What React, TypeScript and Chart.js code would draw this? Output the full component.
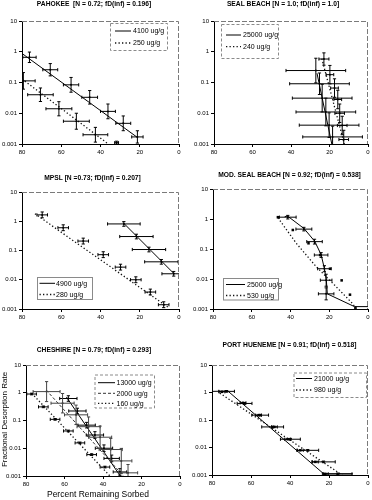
import React, { useEffect, useRef } from 'react';
import { Chart, registerables } from 'chart.js';

Chart.register(...registerables);

const FONT = '"Liberation Sans", Arial, Helvetica, sans-serif';
const NARROW = '"Liberation Sans Narrow", "Liberation Sans", Arial, sans-serif';

// ---------- axes ----------
const xTickValues = [0, 20, 40, 60, 80];
const yTickValues = [0.001, 0.01, 0.1, 1, 10];
const yTickLabels = ['0.001', '0.01', '0.1', '1', '10'];
const xAxisTitle = 'Percent Remaining Sorbed';
const yAxisTitle = 'Fractional Desorption Rate';

// ---------- PAHOKEE ----------
const pahokeeTitle = 'PAHOKEE  [N = 0.72; fD(inf) = 0.196]';
const pahokeeHiLabel = '4100 ug/g';
const pahokeeHiX = [76.2, 65.6, 55.0, 45.5, 36.2, 28.4, 21.2];
const pahokeeHiY = [0.66, 0.26, 0.084, 0.033, 0.0115, 0.0047, 0.0017];
const pahokeeHiXErr = [3.4, 3.8, 3.9, 4.0, 3.8, 3.8, 2.9];
const pahokeeHiYErr = [0.17, 0.2, 0.24, 0.22, 0.24, 0.24, 0.2];
const pahokeeHiFitX = [80, 21];
const pahokeeHiFitY = [0.88, 0.0016];
const pahokeeLoLabel = '250 ug/g';
const pahokeeLoX = [79.3, 70.6, 61.2, 52.3, 42.6, 31.8];
const pahokeeLoY = [0.113, 0.04, 0.014, 0.0055, 0.002, 0.0011];
const pahokeeLoXErr = [6, 6.5, 6.6, 6.6, 6.3, 1];
const pahokeeLoYErr = [0.27, 0.22, 0.23, 0.26, 0.24, 0.05];
const pahokeeLoFitX = [80, 36];
const pahokeeLoFitY = [0.13, 0.001];

// ---------- SEAL BEACH ----------
const sealTitle = 'SEAL BEACH [N = 1.0; fD(inf) = 1.0]';
const sealHiLabel = '25000 ug/g';
const sealHiX = [27.1, 25.2, 23.8, 21.9, 20.2, 18.4];
const sealHiY = [0.245, 0.091, 0.031, 0.011, 0.0041, 0.0017];
const sealHiXErr = [15.5, 15.5, 15.5, 15.5, 15.5, 15.5];
const sealHiYErr = [0.4, 0.35, 0.45, 0.45, 0.4, 0.35];
const sealHiFitX = [26.5, 18.8];
const sealHiFitY = [0.2, 0.001];
const sealLoLabel = '240 ug/g';
const sealLoX = [22.9, 19.8, 17.4, 15.7, 14.7, 13.4, 12.6];
const sealLoY = [0.58, 0.18, 0.066, 0.028, 0.01, 0.004, 0.0014];
const sealLoXErr = [2.6, 2, 2, 2, 2.5, 2.5, 2.5];
const sealLoYErr = [0.2, 0.3, 0.3, 0.3, 0.3, 0.3, 0.3];
const sealLoFitX = [24, 12.3];
const sealLoFitY = [0.6, 0.001];

// ---------- MPSL ----------
const mpslTitle = 'MPSL [N =0.73; fD(inf) = 0.207]';
const mpslHiLabel = '4900 ug/g';
const mpslHiX = [28.1, 21.7, 15.3, 9.0, 2.7];
const mpslHiY = [0.81, 0.3, 0.108, 0.041, 0.016];
const mpslHiXErr = [8.3, 8.5, 8.5, 8.5, 6];
const mpslHiYErr = [0.08, 0.08, 0.08, 0.08, 0.08];
const mpslHiFitX = [28.5, 2.5];
const mpslHiFitY = [0.9, 0.016];
const mpslLoLabel = '280 ug/g';
const mpslLoX = [69.7, 59.0, 48.8, 38.6, 29.8, 22.0, 14.6, 7.8];
const mpslLoY = [1.65, 0.6, 0.21, 0.072, 0.027, 0.01, 0.0038, 0.0014];
const mpslLoXErr = [2.7, 2.7, 2.7, 2.7, 2.7, 2.7, 2.7, 2.7];
const mpslLoYErr = [0.1, 0.1, 0.1, 0.1, 0.1, 0.1, 0.1, 0.1];
const mpslLoFitX = [73.4, 5.6];
const mpslLoFitY = [1.8, 0.00115];

// ---------- MOD. SEAL BEACH ----------
const modTitle = 'MOD. SEAL BEACH [N = 0.92; fD(inf) = 0.538]';
const modHiLabel = '25000 ug/g';
const modHiX = [41.4, 33.1, 27.6, 24.2, 22.5, 21.6, 21.6];
const modHiY = [1.15, 0.46, 0.176, 0.063, 0.022, 0.0091, 0.0032];
const modHiXErr = [4.3, 4.1, 4, 3.5, 3.5, 3, 4];
const modHiYErr = [0.06, 0.06, 0.08, 0.08, 0.1, 0.2, 0.2];
const modHiFitX = [43, 41.5, 33, 27.5, 24.2, 22.5, 21.5, 21, 7, 0];
const modHiFitY = [1.2, 1.25, 0.48, 0.18, 0.065, 0.022, 0.009, 0.0032, 0.0012, 0.0012];
const modLoLabel = '530 ug/g';
const modLoX = [46.5, 38.8, 30.7, 24.7, 19.6, 13.6, 9.3, 6.5];
const modLoY = [1.15, 0.43, 0.155, 0.063, 0.022, 0.009, 0.003, 0.0011];
const modLoXErr = [0, 0, 0, 0, 0, 0, 0, 0];
const modLoYErr = [0, 0, 0, 0, 0, 0, 0, 0];
const modLoFitX = [46.5, 37, 26.8, 17.3, 7.9, 6];
const modLoFitY = [1.1, 0.155, 0.026, 0.0063, 0.0015, 0.001];

// ---------- CHESHIRE ----------
const cheshireTitle = 'CHESHIRE [N = 0.79; fD(inf) = 0.293]';
const cheshireHiLabel = '13000 ug/g';
const cheshireHiX = [58.0, 53.3, 48.5, 44.2, 39.5, 35.5, 31.2];
const cheshireHiY = [0.62, 0.22, 0.068, 0.03, 0.01, 0.0043, 0.0014];
const cheshireHiXErr = [4.5, 4.5, 4.5, 4.5, 4.5, 4, 3.5];
const cheshireHiYErr = [0.1, 0.1, 0.1, 0.12, 0.12, 0.12, 0.12];
const cheshireHiFitX = [59, 31];
const cheshireHiFitY = [0.7, 0.001];
const cheshireMidLabel = '2000 ug/g';
const cheshireMidX = [69.3, 61, 54, 47.5, 41.5, 36, 30.5, 27];
const cheshireMidY = [1.1, 0.42, 0.16, 0.06, 0.025, 0.009, 0.0035, 0.0013];
const cheshireMidXErr = [7, 6, 6, 6, 6, 6, 5.5, 5];
const cheshireMidYErr = [0.36, 0.35, 0.35, 0.35, 0.4, 0.4, 0.45, 0.3];
const cheshireMidFitX = [69.5, 29.4];
const cheshireMidFitY = [1.25, 0.001];
const cheshireLoLabel = '160 ug/g';
const cheshireLoX = [77.1, 71.0, 64.9, 58.0, 52.0, 45.9, 39.0];
const cheshireLoY = [0.9, 0.31, 0.11, 0.042, 0.0156, 0.0059, 0.0021];
const cheshireLoXErr = [2.5, 2.5, 2.5, 2.5, 2.5, 2.5, 2.5];
const cheshireLoYErr = [0.03, 0.03, 0.03, 0.03, 0.03, 0.03, 0.03];
const cheshireLoFitX = [77, 36.4];
const cheshireLoFitY = [0.95, 0.001];

// ---------- PORT HUENEME ----------
const hueTitle = 'PORT HUENEME [N = 0.91; fD(inf) = 0.518]';
const hueHiLabel = '21000 ug/g';
const hueHiX = [74.9, 64.1, 56.1, 48.0, 41.2, 34.7, 27.0, 21.9];
const hueHiY = [1.06, 0.42, 0.15, 0.056, 0.02, 0.0079, 0.003, 0.0011];
const hueHiXErr = [1.5, 1.5, 1.5, 1.5, 1.5, 1.5, 1.5, 1.5];
const hueHiYErr = [0, 0, 0, 0, 0, 0, 0, 0];
const hueHiFitX = [80, 71.8, 22.7, 7.7];
const hueHiFitY = [1.1, 1.12, 0.0011, 0.0011];
const hueLoLabel = '980 ug/g';
const hueLoX = [72.5, 63.3, 55.3, 48.9, 39.8, 30.9, 22.8, 15.5];
const hueLoY = [1.1, 0.4, 0.15, 0.056, 0.02, 0.0079, 0.003, 0.0011];
const hueLoXErr = [4, 3.8, 4.3, 5.6, 5.1, 5.6, 6.0, 7.3];
const hueLoYErr = [0.03, 0.03, 0.03, 0.03, 0.03, 0.03, 0.03, 0.03];
const hueLoFitX = [76, 13.3];
const hueLoFitY = [0.95, 0.001];

// ---------- styles ----------
const STYLE: any = {
  solid: { dash: [], width: 1, color: '#000' },
  dashed: { dash: [3, 2], width: 1, color: '#333' },
  dotted: { dash: [1.3, 2.2], width: 1.3, color: '#111' },
};

function series(label: string, style: string, marker: string, errColor: string,
  x: number[], y: number[], xErr: number[], yErr: number[], fitX: number[], fitY: number[]) {
  return { label, style, marker, errColor, x, y, xErr, yErr, fitX, fitY };
}

const panels: any[] = [
  {
    key: 'p1', left: 0, top: 0, width: 186, height: 170, plot: { l: 22, r: 179, t: 21, b: 144 },
    title: pahokeeTitle, titleX: 94, titleY: 4.5,
    legend: { x1: 110, y1: 23, x2: 167, y2: 50, rows: [31, 43], s1: 115, s2: 131, tx: 133, dash: [3, 2] },
    series: [
      series(pahokeeHiLabel, 'solid', 'dot', '#000', pahokeeHiX, pahokeeHiY, pahokeeHiXErr, pahokeeHiYErr, pahokeeHiFitX, pahokeeHiFitY),
      series(pahokeeLoLabel, 'dotted', 'dot', '#000', pahokeeLoX, pahokeeLoY, pahokeeLoXErr, pahokeeLoYErr, pahokeeLoFitX, pahokeeLoFitY),
    ],
  },
  {
    key: 'p2', left: 186, top: 0, width: 186, height: 170, plot: { l: 214, r: 369, t: 21, b: 144 },
    title: sealTitle, titleX: 283, titleY: 4.5,
    legend: { x1: 221, y1: 24, x2: 278, y2: 58, rows: [35, 46.7], s1: 226, s2: 241, tx: 243, dash: [3, 2] },
    series: [
      series(sealHiLabel, 'solid', 'dot', '#000', sealHiX, sealHiY, sealHiXErr, sealHiYErr, sealHiFitX, sealHiFitY),
      series(sealLoLabel, 'dotted', 'dot', '#000', sealLoX, sealLoY, sealLoXErr, sealLoYErr, sealLoFitX, sealLoFitY),
    ],
  },
  {
    key: 'p3', left: 0, top: 160, width: 186, height: 170, plot: { l: 22, r: 179, t: 192, b: 309 },
    title: mpslTitle, titleX: 92.5, titleY: 178,
    legend: { x1: 37, y1: 277, x2: 92, y2: 299, rows: [283.3, 294.5], s1: 39.5, s2: 55, tx: 56, dash: [] },
    series: [
      series(mpslHiLabel, 'solid', 'dot', '#000', mpslHiX, mpslHiY, mpslHiXErr, mpslHiYErr, mpslHiFitX, mpslHiFitY),
      series(mpslLoLabel, 'dotted', 'dot', '#000', mpslLoX, mpslLoY, mpslLoXErr, mpslLoYErr, mpslLoFitX, mpslLoFitY),
    ],
  },
  {
    key: 'p4', left: 186, top: 160, width: 186, height: 170, plot: { l: 213, r: 368, t: 189, b: 309 },
    title: modTitle, titleX: 289.5, titleY: 175,
    legend: { x1: 223, y1: 278, x2: 278, y2: 299.5, rows: [284.5, 295.5], s1: 226, s2: 245, tx: 247, dash: [] },
    series: [
      series(modHiLabel, 'solid', 'dot', '#000', modHiX, modHiY, modHiXErr, modHiYErr, modHiFitX, modHiFitY),
      series(modLoLabel, 'dotted', 'rect', '#000', modLoX, modLoY, modLoXErr, modLoYErr, modLoFitX, modLoFitY),
    ],
  },
  {
    key: 'p5', left: 0, top: 330, width: 186, height: 170, plot: { l: 26, r: 180, t: 365, b: 476 },
    title: cheshireTitle, titleX: 94, titleY: 350.5,
    xTitle: { x: 98, y: 495 }, yTitle: { x: 5.2, y: 419.5 },
    legend: { x1: 94.5, y1: 374.5, x2: 154, y2: 407.5, rows: [382.7, 393.3, 403.3], s1: 98, s2: 115, tx: 116.5, dash: [3, 2] },
    series: [
      series(cheshireHiLabel, 'solid', 'dot', '#000', cheshireHiX, cheshireHiY, cheshireHiXErr, cheshireHiYErr, cheshireHiFitX, cheshireHiFitY),
      series(cheshireMidLabel, 'dashed', 'dot', '#444', cheshireMidX, cheshireMidY, cheshireMidXErr, cheshireMidYErr, cheshireMidFitX, cheshireMidFitY),
      series(cheshireLoLabel, 'dotted', 'dot', '#000', cheshireLoX, cheshireLoY, cheshireLoXErr, cheshireLoYErr, cheshireLoFitX, cheshireLoFitY),
    ],
  },
  {
    key: 'p6', left: 186, top: 330, width: 186, height: 170, plot: { l: 212, r: 368, t: 365, b: 475 },
    title: hueTitle, titleX: 289.5, titleY: 345,
    legend: { x1: 293.5, y1: 372.5, x2: 366, y2: 397, rows: [378.5, 390], s1: 296, s2: 312, tx: 314, dash: [3, 2] },
    series: [
      series(hueHiLabel, 'solid', 'rect', '#000', hueHiX, hueHiY, hueHiXErr, hueHiYErr, hueHiFitX, hueHiFitY),
      series(hueLoLabel, 'dotted', 'dot', '#000', hueLoX, hueLoY, hueLoXErr, hueLoYErr, hueLoFitX, hueLoFitY),
    ],
  },
];

// ---------- plugins ----------
const errorBarPlugin = {
  id: 'errorBars',
  afterDatasetsDraw(chart: any) {
    const { ctx, chartArea: a, scales } = chart;
    const xs = scales.x, ys = scales.y;
    ctx.save();
    ctx.beginPath();
    ctx.rect(a.left, a.top, a.right - a.left, a.bottom - a.top);
    ctx.clip();
    ctx.lineWidth = 1;
    ctx.setLineDash([]);
    chart.data.datasets.forEach((ds: any) => {
      if (!ds.xErr) return;
      ctx.strokeStyle = ds.errColor;
      ds.data.forEach((p: any, i: number) => {
        const px = xs.getPixelForValue(p.x);
        const py = ys.getPixelForValue(p.y);
        const ex = ds.xErr[i] || 0;
        const ey = ds.yErr[i] || 0;
        ctx.beginPath();
        if (ex > 0) {
          const x1 = xs.getPixelForValue(p.x - ex);
          const x2 = xs.getPixelForValue(p.x + ex);
          ctx.moveTo(x1, py); ctx.lineTo(x2, py);
          ctx.moveTo(x1, py - 1.6); ctx.lineTo(x1, py + 1.6);
          ctx.moveTo(x2, py - 1.6); ctx.lineTo(x2, py + 1.6);
        }
        if (ey > 0) {
          const y1 = ys.getPixelForValue(p.y * Math.pow(10, ey));
          const y2 = ys.getPixelForValue(p.y / Math.pow(10, ey));
          ctx.moveTo(px, y1); ctx.lineTo(px, y2);
          ctx.moveTo(px - 1.6, y1); ctx.lineTo(px + 1.6, y1);
          ctx.moveTo(px - 1.6, y2); ctx.lineTo(px + 1.6, y2);
        }
        ctx.stroke();
      });
    });
    ctx.restore();
  },
};

const decorPlugin = {
  id: 'decor',
  afterDraw(chart: any, _args: any, o: any) {
    const { ctx, chartArea: a } = chart;
    const ox = o.ox, oy = o.oy;
    ctx.save();
    // top and right frame
    ctx.strokeStyle = '#7a7a7a';
    ctx.lineWidth = 1;
    ctx.setLineDash([5, 2]);
    ctx.beginPath();
    ctx.moveTo(a.left, a.top + 0.5);
    ctx.lineTo(a.right - 0.5, a.top + 0.5);
    ctx.lineTo(a.right - 0.5, a.bottom);
    ctx.stroke();
    ctx.setLineDash([]);
    // title
    ctx.fillStyle = '#000';
    ctx.font = `bold 6.7px ${FONT}`;
    ctx.textAlign = 'center';
    ctx.textBaseline = 'middle';
    ctx.fillText(o.title, o.titleX - ox, o.titleY - oy);
    // legend
    const L = o.legend;
    ctx.fillStyle = '#fff';
    ctx.fillRect(L.x1 - ox, L.y1 - oy, L.x2 - L.x1, L.y2 - L.y1);
    ctx.strokeStyle = '#8a8a8a';
    ctx.setLineDash(L.dash);
    ctx.strokeRect(L.x1 - ox + 0.5, L.y1 - oy + 0.5, L.x2 - L.x1, L.y2 - L.y1);
    o.entries.forEach((e: any, i: number) => {
      const st = STYLE[e.style];
      const ry = L.rows[i] - oy;
      ctx.strokeStyle = st.color;
      ctx.lineWidth = st.width;
      ctx.setLineDash(st.dash);
      ctx.beginPath();
      ctx.moveTo(L.s1 - ox, ry);
      ctx.lineTo(L.s2 - ox, ry);
      ctx.stroke();
      ctx.setLineDash([]);
      ctx.fillStyle = '#000';
      ctx.font = `7px ${FONT}`;
      ctx.textAlign = 'left';
      ctx.textBaseline = 'middle';
      ctx.fillText(e.label, L.tx - ox, ry + 0.3);
    });
    // axis titles
    if (o.xTitle) {
      ctx.fillStyle = '#000';
      ctx.font = `8.5px ${NARROW}`;
      ctx.textAlign = 'center';
      ctx.textBaseline = 'middle';
      ctx.fillText(o.xTitleText, o.xTitle.x - ox, o.xTitle.y - oy);
    }
    if (o.yTitle) {
      ctx.save();
      ctx.translate(o.yTitle.x - ox, o.yTitle.y - oy);
      ctx.rotate(-Math.PI / 2);
      ctx.fillStyle = '#000';
      ctx.font = `8px ${FONT}`;
      ctx.textAlign = 'center';
      ctx.textBaseline = 'middle';
      ctx.fillText(o.yTitleText, 0, 0);
      ctx.restore();
    }
    ctx.restore();
  },
};

function buildConfig(p: any) {
  const xH = 14;
  const yW = p.plot.l - p.left;
  const lines = p.series.map((s: any) => ({
    label: s.label,
    data: s.fitX.map((x: number, i: number) => ({ x, y: s.fitY[i] })),
    showLine: true,
    borderColor: STYLE[s.style].color,
    borderWidth: STYLE[s.style].width,
    borderDash: STYLE[s.style].dash,
    pointRadius: 0,
    fill: false,
    tension: 0,
  }));
  const pts = p.series.map((s: any) => ({
    label: s.label + ' data',
    data: s.x.map((x: number, i: number) => ({ x, y: s.y[i] })),
    showLine: false,
    pointStyle: s.marker === 'rect' ? 'rect' : 'circle',
    pointRadius: s.marker === 'rect' ? 1.8 : 1,
    backgroundColor: '#000',
    borderColor: '#000',
    borderWidth: 0,
    xErr: s.xErr,
    yErr: s.yErr,
    errColor: s.errColor,
  }));
  const tickFont = { family: FONT, size: 6 };
  return {
    type: 'scatter',
    data: { datasets: [...lines, ...pts] },
    options: {
      animation: false,
      responsive: false,
      maintainAspectRatio: false,
      devicePixelRatio: 1,
      layout: {
        padding: {
          left: 0,
          top: p.plot.t - p.top,
          right: p.left + p.width - p.plot.r,
          bottom: p.top + p.height - p.plot.b - xH,
        },
      },
      plugins: {
        legend: { display: false },
        tooltip: { enabled: false },
        title: { display: false },
        decor: {
          ox: p.left, oy: p.top, title: p.title, titleX: p.titleX, titleY: p.titleY,
          legend: p.legend,
          entries: p.series.map((s: any) => ({ label: s.label, style: s.style })),
          xTitle: p.xTitle, yTitle: p.yTitle, xTitleText: xAxisTitle, yTitleText: yAxisTitle,
        },
      },
      scales: {
        x: {
          type: 'linear',
          reverse: true,
          min: 0,
          max: 80,
          afterFit: (s: any) => { s.height = xH; },
          afterBuildTicks: (s: any) => { s.ticks = xTickValues.map((v) => ({ value: v })); },
          ticks: { font: tickFont, color: '#000', padding: 2, maxRotation: 0, autoSkip: false, callback: (v: any) => String(v) },
          grid: { display: true, drawOnChartArea: false, drawTicks: true, tickLength: 3, color: '#000' },
          border: { display: true, color: '#000', width: 1 },
        },
        y: {
          type: 'logarithmic',
          min: 0.001,
          max: 10,
          afterFit: (s: any) => { s.width = yW; },
          afterBuildTicks: (s: any) => { s.ticks = yTickValues.map((v) => ({ value: v })); },
          ticks: {
            font: tickFont, color: '#000', padding: 2, autoSkip: false,
            callback: (v: any) => {
              const i = yTickValues.indexOf(v);
              return i >= 0 ? yTickLabels[i] : '';
            },
          },
          grid: { display: true, drawOnChartArea: false, drawTicks: true, tickLength: 3, color: '#000' },
          border: { display: true, color: '#000', width: 1 },
        },
      },
    },
    plugins: [errorBarPlugin, decorPlugin],
  };
}

function Panel({ p }: { p: any }) {
  const ref = useRef<HTMLCanvasElement | null>(null);
  useEffect(() => {
    if (!ref.current) return;
    const chart = new Chart(ref.current, buildConfig(p) as any);
    return () => chart.destroy();
  }, [p]);
  return (
    <canvas
      ref={ref}
      width={p.width}
      height={p.height}
      style={{ position: 'absolute', left: p.left, top: p.top, width: p.width, height: p.height }}
    />
  );
}

export default function App() {
  return (
    <div style={{ position: 'absolute', left: 0, top: 0, width: 372, height: 500, background: '#fff', overflow: 'hidden' }}>
      {panels.map((p) => (
        <Panel key={p.key} p={p} />
      ))}
    </div>
  );
}
